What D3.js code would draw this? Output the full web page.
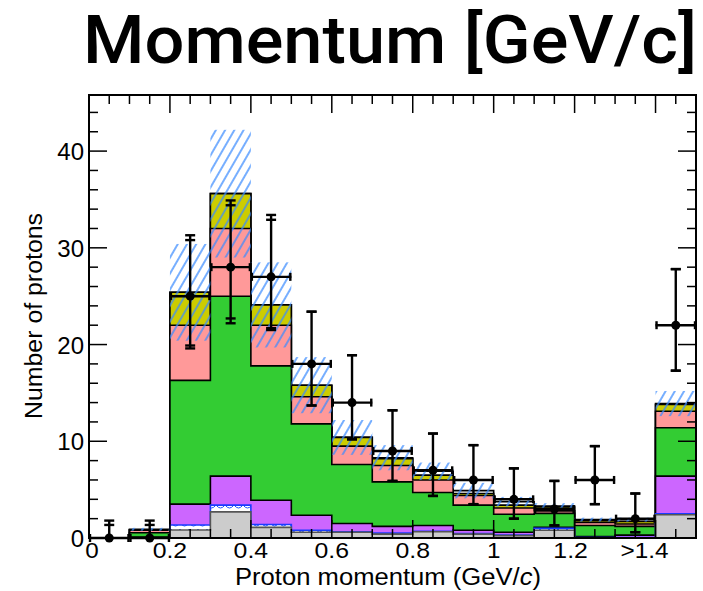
<!DOCTYPE html>
<html><head><meta charset="utf-8">
<script src="https://cdn.jsdelivr.net/npm/d3@7"></script>
<style>body{margin:0;background:#fff}svg{display:block}text{font-family:"Liberation Sans",Arial,Helvetica,sans-serif}</style>
</head><body>
<svg id="c" width="703" height="591"></svg>
<script>
// ---- data ----
const binEdges = [0,0.1,0.2,0.3,0.4,0.5,0.6,0.7,0.8,0.9,1.0,1.1,1.2,1.3,1.4,1.5];
// cumulative tops of stacked components (bottom -> top)
const grayTop   = [0,0,   0.83,2.7, 1.1, 0.6, 0.6, 0.4, 0.65,0.4, 0.25,0.8, 0,   0,   2.4];
const blueTop   = [0,0,   1.35,3.4, 1.4, 0.8, 0.65,0.5, 0.7, 0.45,0.3, 1.0, 0.05,0.05,2.5];
const purpleTop = [0,0.1, 3.5, 6.4, 3.9, 2.35,1.5, 1.2, 1.3, 0.8, 0.6, 1.1, 0.15,0.3, 6.4];
const greenTop  = [0,0.55,16.3,25.0,17.8,11.8,7.6, 5.8, 4.7, 3.4, 2.45,2.55,1.3, 1.2, 11.4];
const pinkTop   = [0,0.8, 22.0,32.0,22.0,14.6,9.5, 7.5, 6.0, 4.4, 3.1, 2.8, 1.6, 1.45,13.1];
const oliveTop  = [0,0.85,25.4,35.6,24.1,15.8,10.4,8.2, 6.5, 4.6, 3.4, 3.2, 1.8, 1.7, 13.8];
const otherTop  = [0,0.9, 25.4,35.6,24.1,15.8,10.4,8.3, 6.9, 4.9, 3.75,3.3, 1.9, 1.9, 13.9];
const systErr   = [0,0.15,5.0, 6.6, 4.4, 2.9, 1.8, 1.3, 0.9, 0.8, 0.5, 0.3, 0.2, 0.2, 1.3];
// data points
const dataVal   = [0,0,25,28,27,18,14,9,7,6,4,3,6,2,22];
const dataHi    = [1.8,1.8,31.3,34.9,33.4,23.4,18.9,13.2,10.8,9.6,7.2,5.9,9.5,4.6,27.8];
const dataLo    = [0,0,19.6,22.2,21.5,13.7,10.2,5.9,4.35,3.5,2.0,1.3,3.5,0.6,17.3];
const dataHi2   = [1.35,1.35,30.8,34.4,32.9,23.4,18.9,13.2,10.8,9.6,7.2,5.9,9.5,4.6,27.8];
const dataLo2   = [0,0,19.9,22.7,21.7,13.7,10.2,5.9,4.35,3.5,2.0,1.3,3.5,0.6,17.3];
const xTickVals = [0,0.2,0.4,0.6,0.8,1.0,1.2,1.4];
const xTickLabels = ["0","0.2","0.4","0.6","0.8","1","1.2",">1.4"];
const yTickVals = [0,10,20,30,40];
const yTickLabels = ["0","10","20","30","40"];

// ---- layout ----
const svg = d3.select("#c");
const L=89, R=696, T=95, B=538;
const x = d3.scaleLinear().domain([0,1.5]).range([L,R]);
const y = d3.scaleLinear().domain([0,45.8]).range([B,T]);

const defs = svg.append("defs");
const hatch = defs.append("pattern").attr("id","hatch").attr("patternUnits","userSpaceOnUse")
  .attr("width",8).attr("height",8).attr("patternTransform","rotate(30)");
hatch.append("line").attr("x1",4).attr("y1",0).attr("x2",4).attr("y2",8)
  .attr("stroke","#3b8cff").attr("stroke-width",1.4);
const scal = defs.append("pattern").attr("id","scal").attr("patternUnits","userSpaceOnUse")
  .attr("width",9).attr("height",6);
scal.append("rect").attr("width",9).attr("height",6).attr("fill","#fff");
scal.append("path").attr("d","M0,1 Q4.5,7 9,1").attr("fill","none").attr("stroke","#2255ff").attr("stroke-width",1);

function stepPts(vals){
  const p=[[binEdges[0],0]];
  vals.forEach((v,i)=>{p.push([binEdges[i],v]);p.push([binEdges[i+1],v]);});
  p.push([binEdges[binEdges.length-1],0]);
  return p;
}
const line = d3.line().x(d=>x(d[0])).y(d=>y(d[1]));

const layers = [
  {v:otherTop, fill:"#ffffff", stroke:"#000"},
  {v:oliveTop, fill:"#cccc00", stroke:"#000"},
  {v:pinkTop,  fill:"#ff9999", stroke:"#000"},
  {v:greenTop, fill:"#33cc33", stroke:"#000"},
  {v:purpleTop,fill:"#cc66ff", stroke:"#000"},
  {v:blueTop,  fill:"url(#scal)", stroke:"#1a3cff"},
  {v:grayTop,  fill:"#cccccc", stroke:"#555"}
];
layers.forEach(l=>{
  svg.append("path").attr("d",line(stepPts(l.v))+"Z").attr("fill",l.fill)
    .attr("stroke",l.stroke).attr("stroke-width",1.6).attr("stroke-linejoin","miter");
});

// systematic band
const gb = svg.append("g");
otherTop.forEach((v,i)=>{
  if(systErr[i]<=0) return;
  gb.append("rect").attr("x",x(binEdges[i])).attr("width",x(binEdges[i+1])-x(binEdges[i]))
    .attr("y",y(v+systErr[i])).attr("height",y(v-systErr[i])-y(v+systErr[i]))
    .attr("fill","url(#hatch)");
});

// axes ticks
const ax = svg.append("g").attr("stroke","#000").attr("stroke-width",1.5);
d3.range(0,46,2).forEach(v=>{
  const len = v%10===0?18:9;
  if(v===0) return;
  ax.append("line").attr("x1",L).attr("x2",L+len).attr("y1",y(v)).attr("y2",y(v));
  ax.append("line").attr("x1",R).attr("x2",R-len).attr("y1",y(v)).attr("y2",y(v));
});
d3.range(0,31).forEach(k=>{
  const v=k*0.05; const len = k%4===0?18:9;
  if(k===0||k===30) return;
  ax.append("line").attr("x1",x(v)).attr("x2",x(v)).attr("y1",B).attr("y2",B-len);
  ax.append("line").attr("x1",x(v)).attr("x2",x(v)).attr("y1",T).attr("y2",T+len);
});

// data points
const gd = svg.append("g").attr("stroke","#000").attr("stroke-width",2.4);
dataVal.forEach((v,i)=>{
  const xc = x((binEdges[i]+binEdges[i+1])/2);
  gd.append("line").attr("x1",xc).attr("x2",xc).attr("y1",y(dataLo[i])).attr("y2",y(dataHi[i]));
  [dataHi[i],dataLo[i],dataHi2[i],dataLo2[i]].forEach(e=>{
    if(e<=0) return;
    gd.append("line").attr("x1",xc-5).attr("x2",xc+5).attr("y1",y(e)).attr("y2",y(e));
  });
  const xl=x(binEdges[i]), xr=x(binEdges[i+1]);
  gd.append("line").attr("x1",xl).attr("x2",xr).attr("y1",y(v)).attr("y2",y(v));
  gd.append("line").attr("x1",xl+1).attr("x2",xl+1).attr("y1",y(v)-4).attr("y2",y(v)+4);
  gd.append("line").attr("x1",xr-1).attr("x2",xr-1).attr("y1",y(v)-4).attr("y2",y(v)+4);
  svg.append("circle").attr("cx",xc).attr("cy",y(v)).attr("r",4.5).attr("fill","#000");
});

// frame
svg.append("rect").attr("x",L).attr("y",T).attr("width",R-L).attr("height",B-T)
  .attr("fill","none").attr("stroke","#000").attr("stroke-width",2);

// tick labels
yTickVals.forEach((v,i)=>{
  svg.append("text").attr("x",L-5).attr("y",y(v)+9).attr("text-anchor","end")
    .attr("font-size",24).text(yTickLabels[i]);
});
const xLabelShift = {"0":3, "1.2":-4, ">1.4":-11};
xTickVals.forEach((v,i)=>{
  const lab = xTickLabels[i];
  svg.append("text").attr("x",x(v)+(xLabelShift[lab]||0)).attr("y",558).attr("text-anchor","middle")
    .attr("font-size",22).attr("textLength", lab.length*13.5 - (lab.includes(".")?6:0))
    .attr("lengthAdjust","spacingAndGlyphs").text(lab);
});
// axis titles
const xt = svg.append("text").attr("x",388).attr("y",585).attr("text-anchor","middle").attr("font-size",23)
  .attr("textLength",306).attr("lengthAdjust","spacingAndGlyphs");
xt.append("tspan").text("Proton momentum (GeV/");
xt.append("tspan").attr("font-style","italic").text("c");
xt.append("tspan").text(")");
svg.append("text").attr("transform","translate(42,316) rotate(-90)").attr("text-anchor","middle")
  .attr("font-size",23).attr("textLength",206).attr("lengthAdjust","spacingAndGlyphs").text("Number of protons");
// title
svg.append("text").attr("x",83).attr("y",63).attr("font-size",66)
  .style("font-family","Roboto, 'Liberation Sans', sans-serif").attr("font-weight",500)
  .attr("textLength",614).attr("lengthAdjust","spacingAndGlyphs").text("Momentum [GeV/c]");
</script>
</body></html>
